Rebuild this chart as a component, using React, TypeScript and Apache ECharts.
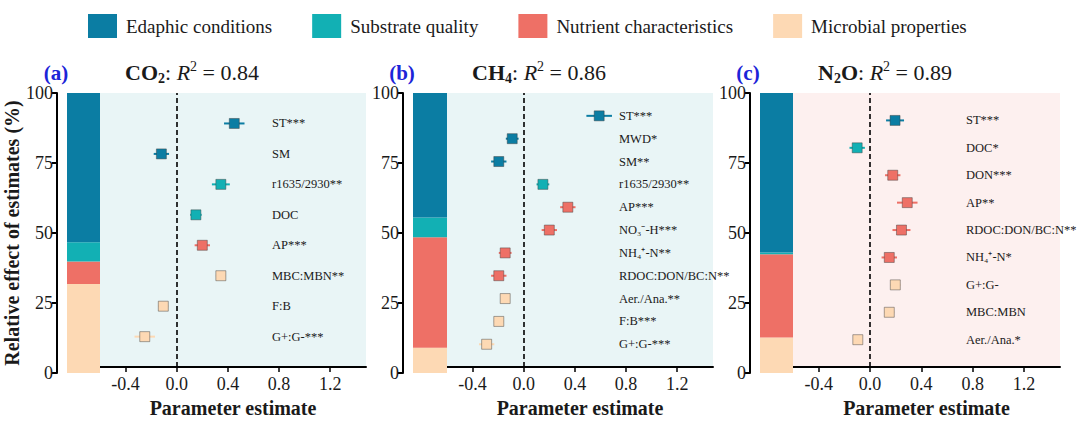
import React, { useEffect, useRef } from "react";
import * as echarts from "echarts";

// ---------- data ----------
const groupNames = ["Edaphic conditions", "Substrate quality", "Nutrient characteristics", "Microbial properties"];
const groupColors = ["#0b7da3", "#12b0b4", "#ee7066", "#fdd9b4"];

// Panel (a) CO2
const aLabels = ["ST***", "SM", "r1635/2930**", "DOC", "AP***", "MBC:MBN**", "F:B", "G+:G-***"];
const aGroups = [0, 0, 1, 1, 2, 3, 3, 3];
const aEstimates = [0.45, -0.12, 0.345, 0.15, 0.2, 0.345, -0.105, -0.25];
const aErrors = [0.08, 0.06, 0.07, 0.045, 0.06, 0.04, 0.04, 0.08];
const aShares = [53.3, 6.9, 8.0, 31.8]; // edaphic, substrate, nutrient, microbial

// Panel (b) CH4
const bLabels = ["ST***", "MWD*", "SM**", "r1635/2930**", "AP***", "NO₃⁻-H***", "NH₄⁺-N**", "RDOC:DON/BC:N**", "Aer./Ana.**", "F:B***", "G+:G-***"];
const bGroups = [0, 0, 0, 1, 2, 2, 2, 2, 3, 3, 3];
const bEstimates = [0.59, -0.09, -0.195, 0.15, 0.345, 0.2, -0.145, -0.195, -0.145, -0.195, -0.29];
const bErrors = [0.1, 0.05, 0.06, 0.05, 0.06, 0.06, 0.05, 0.06, 0.03, 0.04, 0.06];
const bShares = [44.5, 7.0, 39.5, 9.0];

// Panel (c) N2O
const cLabels = ["ST***", "DOC*", "DON***", "AP**", "RDOC:DON/BC:N**", "NH₄⁺-N*", "G+:G-", "MBC:MBN", "Aer./Ana.*"];
const cGroups = [0, 1, 2, 2, 2, 2, 3, 3, 3];
const cEstimates = [0.195, -0.1, 0.177, 0.29, 0.245, 0.15, 0.197, 0.15, -0.095];
const cErrors = [0.07, 0.06, 0.06, 0.08, 0.07, 0.06, 0.04, 0.04, 0.03];
const cShares = [57.0, 0.6, 29.7, 12.7];

const xTickValues = [-0.4, 0, 0.4, 0.8, 1.2];
const yTickMax = 100;

const panelTags = ["(a)", "(b)", "(c)"];
const panelTitles = [
  "{b|CO}{bs|2}{n|: }{i|R}{sup|2}{n| = 0.84}",
  "{b|CH}{bs|4}{n|: }{i|R}{sup|2}{n| = 0.86}",
  "{b|N}{bs|2}{b|O}{n|: }{i|R}{sup|2}{n| = 0.89}",
];
const panelBgs = ["#e9f5f6", "#e9f5f6", "#fdf0ef"];

// ---------- layout ----------
const FONT = "Liberation Serif, Times New Roman, serif";
const TXT = "#1a1a1a";
const TOP = 93;
const HEIGHT = 280;
const layouts = [
  { barLeft: 67, barWidth: 33, plotLeft: 100, plotWidth: 266, tagX: 56, titleX: 192 },
  { barLeft: 413, barWidth: 34, plotLeft: 447, plotWidth: 266, tagX: 402, titleX: 539 },
  { barLeft: 760, barWidth: 33, plotLeft: 793, plotWidth: 267, tagX: 748, titleX: 885 },
];

const panels = [
  { labels: aLabels, groups: aGroups, est: aEstimates, err: aErrors, shares: aShares },
  { labels: bLabels, groups: bGroups, est: bEstimates, err: bErrors, shares: bShares },
  { labels: cLabels, groups: cGroups, est: cEstimates, err: cErrors, shares: cShares },
];

function buildOption() {
  const grid: any[] = [];
  const xAxis: any[] = [];
  const yAxis: any[] = [];
  const series: any[] = [];
  const graphic: any[] = [];

  panels.forEach((p, pi) => {
    const L = layouts[pi];
    const n = p.labels.length;
    grid.push({ left: L.barLeft, top: TOP, width: L.barWidth, height: HEIGHT, containLabel: false });
    grid.push({
      left: L.plotLeft, top: TOP, width: L.plotWidth, height: HEIGHT, containLabel: false,
      show: true, backgroundColor: panelBgs[pi], borderWidth: 0,
    });

    xAxis.push({ type: "category", gridIndex: 2 * pi, data: [""], show: false });
    yAxis.push({
      type: "value", gridIndex: 2 * pi, min: 0, max: yTickMax, interval: 25, position: "left", offset: 10,
      axisLine: { show: true, lineStyle: { color: "#000", width: 2 } },
      axisTick: { show: true, length: 5, lineStyle: { color: "#000", width: 2 } },
      axisLabel: { fontSize: 18, fontFamily: FONT, color: TXT, margin: 4 },
      splitLine: { show: false },
      name: pi === 0 ? "Relative effect of estimates (%)" : "",
      nameLocation: "middle", nameGap: 33, nameRotate: 90,
      nameTextStyle: { fontSize: 20, fontWeight: "bold", fontFamily: FONT, color: TXT },
    });

    xAxis.push({
      type: "value", gridIndex: 2 * pi + 1, min: -0.6, max: 1.48,
      axisLine: { show: true, onZero: false, lineStyle: { color: "#000", width: 2 } },
      axisTick: { show: true, length: 5, customValues: xTickValues, lineStyle: { color: "#000", width: 1.5 } },
      axisLabel: {
        customValues: xTickValues, fontSize: 18, fontFamily: FONT, color: TXT, margin: 8,
        formatter: (v: number) => v.toFixed(1),
      },
      splitLine: { show: false },
      name: "Parameter estimate", nameLocation: "middle", nameGap: 30,
      nameTextStyle: { fontSize: 20, fontWeight: "bold", fontFamily: FONT, color: TXT },
    });
    const cats = ["", ...p.labels.slice().reverse(), ""];
    yAxis.push({
      type: "category", gridIndex: 2 * pi + 1, data: cats, boundaryGap: false, position: "right", offset: -94,
      axisLine: { show: false }, axisTick: { show: false }, splitLine: { show: false },
      axisLabel: { interval: 0, margin: 0, fontSize: 12.5, fontFamily: FONT, color: TXT, align: "left" },
    });

    [3, 2, 1, 0].forEach((g) => {
      series.push({
        name: groupNames[g], type: "bar", stack: "s" + pi, xAxisIndex: 2 * pi, yAxisIndex: 2 * pi,
        data: [p.shares[g]], barWidth: "100%", itemStyle: { color: groupColors[g] },
        silent: true,
      });
    });

    const data = p.est.map((v, i) => [v, n - i, p.err[i], p.groups[i]]);
    series.push({
      type: "custom", xAxisIndex: 2 * pi + 1, yAxisIndex: 2 * pi + 1, data,
      encode: { x: 0, y: 1 }, silent: true,
      renderItem: (_params: any, api: any) => {
        const x = api.value(0);
        const y = api.value(1);
        const e = api.value(2);
        const g = api.value(3);
        const c = api.coord([x, y]);
        const lo = api.coord([x - e, y]);
        const hi = api.coord([x + e, y]);
        const col = groupColors[g];
        const s = 10;
        return {
          type: "group",
          children: [
            { type: "line", shape: { x1: lo[0], y1: lo[1], x2: hi[0], y2: hi[1] }, style: { stroke: col, lineWidth: 2 } },
            { type: "rect", shape: { x: c[0] - s / 2, y: c[1] - s / 2, width: s, height: s }, style: { fill: col, stroke: "rgba(60,60,60,0.45)", lineWidth: 1 } },
          ],
        };
      },
      markLine: {
        silent: true, symbol: "none", label: { show: false },
        lineStyle: { color: "#000", width: 1.6, type: [5, 3] },
        data: [{ xAxis: 0 }],
      },
    });

    graphic.push({
      type: "text", x: L.tagX, y: 73,
      style: { text: panelTags[pi], fill: "#1c24d8", fontSize: 21, fontWeight: "bold", fontFamily: FONT, align: "center", verticalAlign: "middle" },
    });
    graphic.push({
      type: "text", x: L.titleX, y: 72,
      style: {
        text: panelTitles[pi], align: "center", verticalAlign: "middle", fontFamily: FONT, fill: TXT,
        rich: {
          b: { fontSize: 22, fontWeight: "bold", fontFamily: FONT, color: TXT, lineHeight: 26 },
          bs: { fontSize: 14, fontWeight: "bold", fontFamily: FONT, color: TXT, verticalAlign: "bottom", lineHeight: 14 },
          n: { fontSize: 22, fontFamily: FONT, color: TXT, lineHeight: 26 },
          i: { fontSize: 22, fontStyle: "italic", fontFamily: FONT, color: TXT, lineHeight: 26 },
          sup: { fontSize: 14, fontFamily: FONT, color: TXT, verticalAlign: "top", lineHeight: 14 },
        },
      },
    });
  });

  return {
    animation: false,
    backgroundColor: "#ffffff",
    textStyle: { fontFamily: FONT },
    legend: {
      top: 9, left: 83, itemWidth: 29, itemHeight: 24, itemGap: 40, icon: "rect", selectedMode: false,
      data: groupNames,
      textStyle: { fontSize: 19, fontFamily: FONT, color: TXT, padding: [0, 0, 0, 4] },
    },
    grid, xAxis, yAxis, series, graphic,
  };
}

export default function App() {
  const ref = useRef<HTMLDivElement>(null);
  useEffect(() => {
    if (!ref.current) return;
    const chart = echarts.init(ref.current, undefined, { renderer: "svg" });
    chart.setOption(buildOption() as any);
    return () => chart.dispose();
  }, []);
  return <div ref={ref} style={{ position: "fixed", left: 0, top: 0, width: 1080, height: 423 }} />;
}
